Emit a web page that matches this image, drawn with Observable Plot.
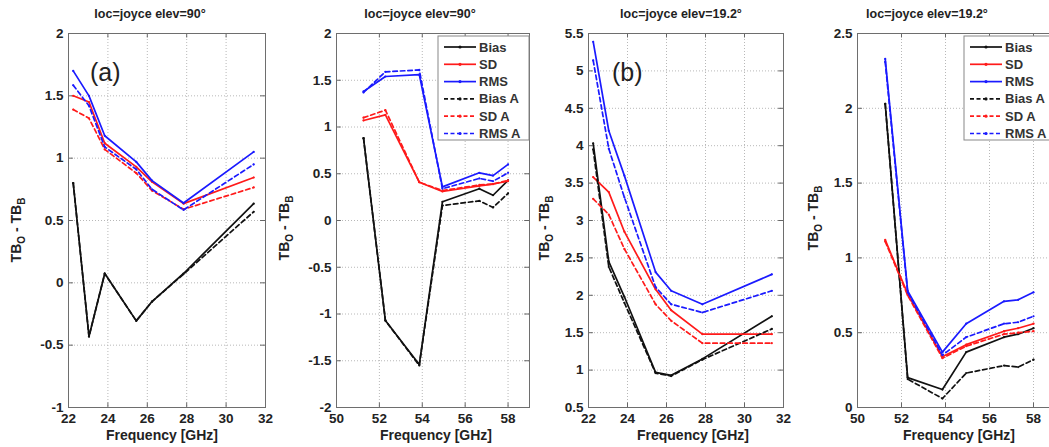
<!DOCTYPE html>
<html>
<head>
<meta charset="utf-8">
<script src="https://cdn.jsdelivr.net/npm/d3@7"></script>
<script src="https://cdn.jsdelivr.net/npm/@observablehq/plot@0.6"></script>
<style>
  html, body { margin: 0; padding: 0; background: #fff; }
  #wrap { position: relative; width: 1049px; height: 447px; overflow: hidden; background:#fff; }
  #wrap svg { position: absolute; top: 0; overflow: visible; }
</style>
</head>
<body>
<div id="wrap"></div>
<script>
// ---------- data ----------
const freqK = [22.24, 23.04, 23.84, 25.44, 26.24, 27.84, 31.40];
const freqV = [51.26, 52.28, 53.86, 54.94, 56.66, 57.30, 58.00];

const seriesNames = ["Bias", "SD", "RMS", "Bias A", "SD A", "RMS A"];
const seriesColors = ["#111111", "#ff1a1a", "#1a1aff", "#111111", "#ff1a1a", "#1a1aff"];
const seriesDashed = [false, false, false, true, true, true];

// panel (a) K-band, elev 90
const a_bias  = [0.80, -0.43, 0.075, -0.305, -0.15, 0.075, 0.635];
const a_sd    = [1.50, 1.45, 1.12, 0.93, 0.81, 0.635, 0.845];
const a_rms   = [1.70, 1.50, 1.18, 0.97, 0.82, 0.64, 1.05];
const a_biasA = [0.80, -0.43, 0.075, -0.305, -0.15, 0.07, 0.57];
const a_sdA   = [1.39, 1.32, 1.07, 0.88, 0.74, 0.59, 0.765];
const a_rmsA  = [1.585, 1.42, 1.09, 0.91, 0.75, 0.585, 0.95];

// panel 2 V-band, elev 90
const v90_bias  = [0.88, -1.07, -1.54, 0.20, 0.34, 0.27, 0.43];
const v90_sd    = [1.07, 1.13, 0.41, 0.31, 0.37, 0.39, 0.42];
const v90_rms   = [1.38, 1.54, 1.56, 0.36, 0.51, 0.48, 0.60];
const v90_biasA = [0.88, -1.07, -1.55, 0.16, 0.21, 0.14, 0.29];
const v90_sdA   = [1.10, 1.18, 0.41, 0.32, 0.38, 0.39, 0.43];
const v90_rmsA  = [1.37, 1.59, 1.61, 0.34, 0.45, 0.42, 0.51];

// panel (b) K-band, elev 19.2
const b_bias  = [4.03, 2.45, 1.98, 0.97, 0.93, 1.15, 1.72];
const b_sd    = [3.58, 3.38, 2.85, 2.08, 1.80, 1.48, 1.48];
const b_rms   = [5.39, 4.20, 3.60, 2.31, 2.06, 1.88, 2.28];
const b_biasA = [3.95, 2.38, 1.90, 0.96, 0.92, 1.14, 1.55];
const b_sdA   = [3.29, 3.08, 2.62, 1.88, 1.66, 1.36, 1.36];
const b_rmsA  = [5.14, 3.96, 3.31, 2.11, 1.88, 1.77, 2.06];

// panel 4 V-band, elev 19.2
const v19_bias  = [2.03, 0.20, 0.12, 0.37, 0.47, 0.49, 0.53];
const v19_sd    = [1.12, 0.76, 0.34, 0.42, 0.51, 0.53, 0.56];
const v19_rms   = [2.33, 0.78, 0.37, 0.56, 0.71, 0.72, 0.77];
const v19_biasA = [2.03, 0.19, 0.06, 0.23, 0.28, 0.27, 0.32];
const v19_sdA   = [1.11, 0.75, 0.33, 0.41, 0.49, 0.50, 0.51];
const v19_rmsA  = [2.31, 0.77, 0.35, 0.47, 0.56, 0.57, 0.61];

const titles = ["loc=joyce elev=90°", "loc=joyce elev=90°", "loc=joyce elev=19.2°", "loc=joyce elev=19.2°"];
const panelTags = ["(a)", null, "(b)", null];
const xTicksK = [22, 24, 26, 28, 30, 32];
const xTicksV = [50, 52, 54, 56, 58];
const yTicksA = [-1, -0.5, 0, 0.5, 1, 1.5, 2];
const yTicks2 = [-2, -1.5, -1, -0.5, 0, 0.5, 1, 1.5, 2];
const yTicksB = [0.5, 1, 1.5, 2, 2.5, 3, 3.5, 4, 4.5, 5, 5.5];
const yTicks4 = [0, 0.5, 1, 1.5, 2, 2.5];
const xLabel = "Frequency [GHz]";

// ---------- layout ----------
const FONT = "'Liberation Sans', Arial, sans-serif";
const panels = [
  {left: 0,   width: 270, ml: 68, mr: 5, freq: freqK, xd: [22, 32], xt: xTicksK, yd: [-1, 2], yt: yTicksA,
   vals: [a_bias, a_sd, a_rms, a_biasA, a_sdA, a_rmsA], titleX: 150, xlabX: 162, ylabX: 21, ylabY: 230, legend: false, tagX: 90},
  {left: 270, width: 262, ml: 66, mr: 3, freq: freqV, xd: [50, 59], xt: xTicksV, yd: [-2, 2], yt: yTicks2,
   vals: [v90_bias, v90_sd, v90_rms, v90_biasA, v90_sdA, v90_rmsA], titleX: 420, xlabX: 436, ylabX: 289, ylabY: 228, legend: true},
  {left: 532, width: 255, ml: 56, mr: 4, freq: freqK, xd: [22, 32], xt: xTicksK, yd: [0.5, 5.5], yt: yTicksB,
   vals: [b_bias, b_sd, b_rms, b_biasA, b_sdA, b_rmsA], titleX: 681, xlabX: 693, ylabX: 549, ylabY: 228, legend: false, tagX: 612},
  {left: 787, width: 270, ml: 70, mr: 2, freq: freqV, xd: [50, 59], xt: xTicksV, yd: [0, 2.5], yt: yTicks4,
   vals: [v19_bias, v19_sd, v19_rms, v19_biasA, v19_sdA, v19_rmsA], titleX: 927, xlabX: 959, ylabX: 818, ylabY: 218, legend: true}
];

const wrap = document.getElementById("wrap");

panels.forEach((p, pi) => {
  const lineMarks = [];
  p.vals.forEach((vals, si) => {
    const rows = vals.map((v, i) => ({f: p.freq[i], v}));
    lineMarks.push(Plot.line(rows, {
      x: "f", y: "v", stroke: seriesColors[si], strokeWidth: 1.7,
      strokeDasharray: seriesDashed[si] ? "4.5,3" : null
    }));
    lineMarks.push(Plot.dot(rows, {x: "f", y: "v", r: 1.1, fill: seriesColors[si], stroke: "none"}));
  });
  const yMin = p.yd[0], yMax = p.yd[1];
  const ySpan = yMax - yMin, xSpan = p.xd[1] - p.xd[0];
  const chart = Plot.plot({
    width: p.width, height: 447,
    marginLeft: p.ml, marginRight: p.mr, marginTop: 33, marginBottom: 40,
    style: {fontFamily: FONT, background: "transparent", overflow: "visible"},
    x: {domain: p.xd, type: "linear"},
    y: {domain: p.yd, type: "linear"},
    marks: [
      Plot.gridX(p.xt, {stroke: "#b8b8b8", strokeOpacity: 1, strokeDasharray: "1,2"}),
      Plot.gridY(p.yt, {stroke: "#b8b8b8", strokeOpacity: 1, strokeDasharray: "1,2"}),
      // inward ticks
      Plot.ruleX(p.xt, {y1: yMin, y2: yMin + ySpan * 0.012, stroke: "#666"}),
      Plot.ruleX(p.xt, {y1: yMax, y2: yMax - ySpan * 0.012, stroke: "#666"}),
      Plot.ruleY(p.yt, {x1: p.xd[0], x2: p.xd[0] + xSpan * 0.025, stroke: "#666"}),
      Plot.ruleY(p.yt, {x1: p.xd[1], x2: p.xd[1] - xSpan * 0.025, stroke: "#666"}),
      Plot.axisX(p.xt, {tickSize: 0, tickPadding: 6, label: null, fontSize: 13.5, fontWeight: "bold", fill: "#222", tickFormat: d => String(d)}),
      Plot.axisY(p.yt, {tickSize: 0, tickPadding: 5, label: null, fontSize: 13.5, fontWeight: "bold", fill: "#222", tickFormat: d => String(d)}),
      ...lineMarks,
      Plot.frame({stroke: "#6e6e6e", strokeWidth: 1})
    ]
  });
  chart.style.left = p.left + "px";
  wrap.appendChild(chart);

  const svg = d3.select(chart);
  const L = p.left;
  // title
  svg.append("text").attr("x", p.titleX - L).attr("y", 18).attr("text-anchor", "middle")
    .attr("font-family", FONT).attr("font-size", 12.5).attr("font-weight", "bold").attr("fill", "#222")
    .text(titles[pi]);
  // x label
  svg.append("text").attr("x", p.xlabX - L).attr("y", 440).attr("text-anchor", "middle")
    .attr("font-family", FONT).attr("font-size", 14).attr("font-weight", "bold").attr("fill", "#222")
    .text(xLabel);
  // y label with subscripts
  const yl = svg.append("text").attr("transform", `translate(${p.ylabX - L},${p.ylabY}) rotate(-90)`)
    .attr("text-anchor", "middle").attr("font-family", FONT).attr("font-size", 14)
    .attr("font-weight", "bold").attr("fill", "#222");
  yl.append("tspan").text("TB");
  yl.append("tspan").attr("dy", 4).attr("font-size", 10).text("O");
  yl.append("tspan").attr("dy", -4).text(" - TB");
  yl.append("tspan").attr("dy", 4).attr("font-size", 10).text("B");
  // panel tag
  if (panelTags[pi]) {
    svg.append("text").attr("x", p.tagX - L).attr("y", 81).attr("text-anchor", "start")
      .attr("font-family", FONT).attr("font-size", 25).attr("fill", "#222").text(panelTags[pi]);
  }
  // legend
  if (p.legend) {
    const plotRight = p.width - p.mr;
    const bw = 91, bx = plotRight - bw, by = 36, bh = 104;
    const g = svg.append("g");
    g.append("rect").attr("x", bx).attr("y", by).attr("width", bw).attr("height", bh)
      .attr("fill", "#fff").attr("stroke", "#888").attr("stroke-width", 1);
    seriesNames.forEach((name, si) => {
      const ry = by + 11 + si * 17.3;
      g.append("line").attr("x1", bx + 6).attr("x2", bx + 38).attr("y1", ry).attr("y2", ry)
        .attr("stroke", seriesColors[si]).attr("stroke-width", 1.7)
        .attr("stroke-dasharray", seriesDashed[si] ? "4,2.5" : null);
      g.append("circle").attr("cx", bx + 22).attr("cy", ry).attr("r", 1.6).attr("fill", seriesColors[si]);
      g.append("text").attr("x", bx + 41).attr("y", ry + 4.5).attr("text-anchor", "start")
        .attr("font-family", FONT).attr("font-size", 13).attr("font-weight", "bold").attr("fill", "#333")
        .text(name);
    });
  }
});
</script>
</body>
</html>
